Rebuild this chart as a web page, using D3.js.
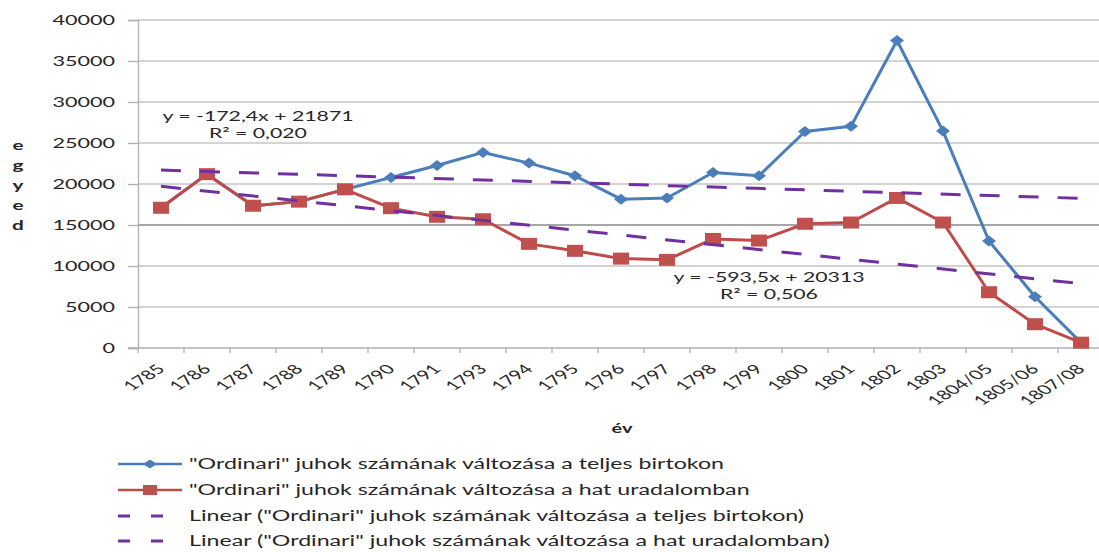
<!DOCTYPE html>
<html>
<head>
<meta charset="utf-8">
<script src="https://cdn.jsdelivr.net/npm/d3@7"></script>
<style>
body{margin:0;background:#fff}
text{font-family:Lato,"Open Sans",sans-serif;fill:#262626}
</style>
</head>
<body>
<div id="canvas"></div>
<script>
const years = ['1785','1786','1787','1788','1789','1790','1791','1793','1794','1795','1796','1797','1798','1799','1800','1801','1802','1803','1804/05','1805/06','1807/08']
const teljes = [17100,21200,17350,17850,19350,20800,22250,23850,22550,21000,18150,18300,21400,21000,26400,27050,37500,26450,13050,6250,650]
const hat = [17100,21200,17350,17850,19350,17050,16000,15700,12700,11850,10900,10750,13300,13100,15150,15300,18300,15300,6800,2900,650]
const yTicks = [0,5000,10000,15000,20000,25000,30000,35000,40000]
const trendSlope = [-172.4,-593.5]
const trendIntercept = [21871,20313]
const eqLines = [['y = -172,4x + 21871','R² = 0,020'],['y = -593,5x + 20313','R² = 0,506']]
const legendLabels = ['"Ordinari" juhok számának változása a teljes birtokon',
  '"Ordinari" juhok számának változása a hat uradalomban',
  'Linear ("Ordinari" juhok számának változása a teljes birtokon)',
  'Linear ("Ordinari" juhok számának változása a hat uradalomban)']

const width = 1099, height = 552
const margin = {top:20,left:138,bottom:348}
const SX = 1.6
const blue = '#4A7EBB', red = '#BE4B48', purple = '#7030A0'

const svg = d3.select('#canvas').append('svg')
  .attr('width',width).attr('height',height)

let x = d3.scaleBand().domain(years).range([margin.left, margin.left+46*years.length])
let y = d3.scaleLinear().domain([0,40000]).range([margin.bottom, margin.top])
let cx = d => x(d)+x.bandwidth()/2

function txt(g, tx, ty, s, size, anchor, extra){
  return g.append('text')
    .attr('transform', `translate(${tx},${ty}) scale(${SX},1)` + (extra||''))
    .attr('font-size', size).attr('text-anchor', anchor||'start').text(s)
}

// grid
svg.append('g').selectAll('line').data(yTicks.slice(1)).enter().append('line')
  .attr('x1',margin.left).attr('x2',width)
  .attr('y1',d=>y(d)).attr('y2',d=>y(d))
  .attr('stroke',d=>d==15000?'#8a8a8a':'#c4c4c4').attr('stroke-width',1.3)

// axes
let yAxis = svg.append('g').attr('transform',`translate(${margin.left},0)`)
  .call(d3.axisLeft(y).tickValues(yTicks).tickSize(10).tickFormat(''))
yAxis.select('.domain').attr('stroke','#b0b0b0').attr('stroke-width',1.3)
yAxis.selectAll('.tick line').attr('stroke','#b0b0b0').attr('stroke-width',1.3)
yTicks.forEach(v => txt(svg, 115, y(v)+5, v, 13.5, 'end'))

svg.append('line').attr('x1',128).attr('x2',width)
  .attr('y1',y(0)).attr('y2',y(0)).attr('stroke','#b0b0b0').attr('stroke-width',1.3)
svg.append('g').selectAll('line').data(years).enter().append('line')
  .attr('x1',d=>x(d)).attr('x2',d=>x(d))
  .attr('y1',y(0)).attr('y2',y(0)+5).attr('stroke','#b0b0b0').attr('stroke-width',1.3)
years.forEach(d => txt(svg, cx(d)+5, 370, d, 13, 'end', ' rotate(-45)'))

// axis titles
txt(svg, 622, 433, 'év', 12.5, 'middle').attr('font-weight','bold')
'egyed'.split('').forEach((c,i) => txt(svg, 18, 150+i*20, c, 13, 'middle').attr('font-weight','bold'))

// series
let line = d3.line().x((d,i)=>cx(years[i])).y(d=>y(d))
svg.append('path').datum(teljes).attr('d',line)
  .attr('fill','none').attr('stroke',blue).attr('stroke-width',3).attr('stroke-linejoin','round')
svg.append('g').selectAll('path').data(teljes).enter().append('path')
  .attr('d',(d,i)=>{let px=cx(years[i]),py=y(d);return `M${px-7},${py}L${px},${py-5.5}L${px+7},${py}L${px},${py+5.5}Z`})
  .attr('fill',blue)

svg.append('path').datum(hat).attr('d',line)
  .attr('fill','none').attr('stroke',red).attr('stroke-width',3).attr('stroke-linejoin','round')
svg.append('g').selectAll('rect').data(hat).enter().append('rect')
  .attr('x',(d,i)=>cx(years[i])-8).attr('y',d=>y(d)-6)
  .attr('width',16).attr('height',12).attr('fill','#C0504D')

// trend lines from the displayed equations
trendSlope.forEach((s,k)=>{
  let n = years.length
  svg.append('line')
    .attr('x1',cx(years[0])).attr('y1',y(s*1+trendIntercept[k]))
    .attr('x2',cx(years[n-1])).attr('y2',y(s*n+trendIntercept[k]))
    .attr('stroke',purple).attr('stroke-width',3).attr('stroke-dasharray','20,19')
})

// equations
let eqPos = [[258,121],[769,282]]
eqLines.forEach((ls,k)=>{
  ls.forEach((s,j)=> txt(svg, eqPos[k][0], eqPos[k][1]+j*17, s, 13.3, 'middle').attr('fill','#333'))
})

// legend
let legY = [464,490,516,541]
let lg = svg.append('g')
legY.forEach((ly,i)=>{
  if(i<2){
    lg.append('line').attr('x1',118).attr('x2',182).attr('y1',ly).attr('y2',ly)
      .attr('stroke',i==0?blue:red).attr('stroke-width',2.5)
    if(i==0) lg.append('path').attr('d',`M143,${ly}L150,${ly-4.5}L157,${ly}L150,${ly+4.5}Z`).attr('fill',blue)
    else lg.append('rect').attr('x',143).attr('y',ly-5).attr('width',14).attr('height',10).attr('fill','#C0504D')
  } else {
    lg.append('line').attr('x1',118).attr('x2',170).attr('y1',ly).attr('y2',ly)
      .attr('stroke',purple).attr('stroke-width',3).attr('stroke-dasharray','12,21')
  }
  txt(lg, 189, ly+5, legendLabels[i], 14.5, 'start').attr('fill','#333')
})
</script>
</body>
</html>
